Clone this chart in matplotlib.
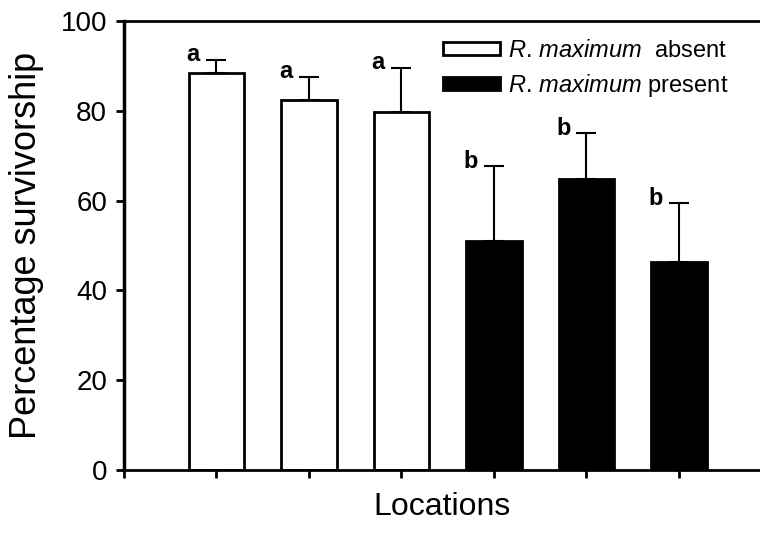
import matplotlib
matplotlib.use("Agg")
import matplotlib.pyplot as plt

plt.rcParams['font.family'] = ['Liberation Sans', 'DejaVu Sans']
plt.rcParams['mathtext.fontset'] = 'custom'
plt.rcParams['mathtext.rm'] = 'Liberation Sans'
plt.rcParams['mathtext.it'] = 'Liberation Sans:italic'

# Data
locations = [1, 2, 3, 4, 5, 6]
survival = [88.4, 82.4, 79.8, 51.0, 64.8, 46.4]
err_up = [3.0, 5.2, 9.8, 16.6, 10.2, 13.0]
groups = ['absent', 'absent', 'absent', 'present', 'present', 'present']
letters = ['a', 'a', 'a', 'b', 'b', 'b']

colors = {'absent': 'white', 'present': 'black'}
labels = {'absent': r'$\it{R.\,maximum}$  absent',
          'present': r'$\it{R.\,maximum}$ present'}

fig = plt.figure(figsize=(7.6, 5.36), dpi=100)
ax = fig.add_axes([0.163, 0.123, 0.837, 0.838])

for g in ['absent', 'present']:
    xs = [x for x, gg in zip(locations, groups) if gg == g]
    ys = [y for y, gg in zip(survival, groups) if gg == g]
    ax.bar(xs, ys, width=0.6, color=colors[g], edgecolor='black',
           linewidth=2, label=labels[g], zorder=2)

lower = [0] * len(err_up)
ax.errorbar(locations, survival, yerr=[lower, err_up], fmt='none',
            ecolor='black', elinewidth=1.5, capsize=7, capthick=1.5, zorder=1)

for x, y, e, t in zip(locations, survival, err_up, letters):
    ax.text(x - 0.25, y + e - 1.5, t, ha='center', va='bottom',
            fontsize=17, fontweight='bold')

ax.set_xlim(0, 6.876)
ax.set_ylim(0, 100)
ax.set_yticks([0, 20, 40, 60, 80, 100])
ax.set_xticks([0, 1, 2, 3, 4, 5, 6])
ax.set_xticklabels([])
ax.tick_params(axis='y', direction='out', length=6, width=2, labelsize=20, pad=6)
ax.tick_params(axis='x', direction='out', length=6, width=2)

ax.spines['right'].set_visible(False)
ax.spines['left'].set_linewidth(2.5)
ax.spines['bottom'].set_linewidth(2)
ax.spines['top'].set_linewidth(2)

ax.set_ylabel('Percentage survivorship', fontsize=26, labelpad=12)
ax.set_xlabel('Locations', fontsize=23, labelpad=6)

ax.legend(loc='upper left', bbox_to_anchor=(0.583, 0.925),
          bbox_transform=fig.transFigure, frameon=False, fontsize=17,
          handlelength=2.4, handleheight=0.45, handletextpad=0.35,
          labelspacing=0.4, borderpad=0, borderaxespad=0)

fig.savefig('out.png', dpi=100)
